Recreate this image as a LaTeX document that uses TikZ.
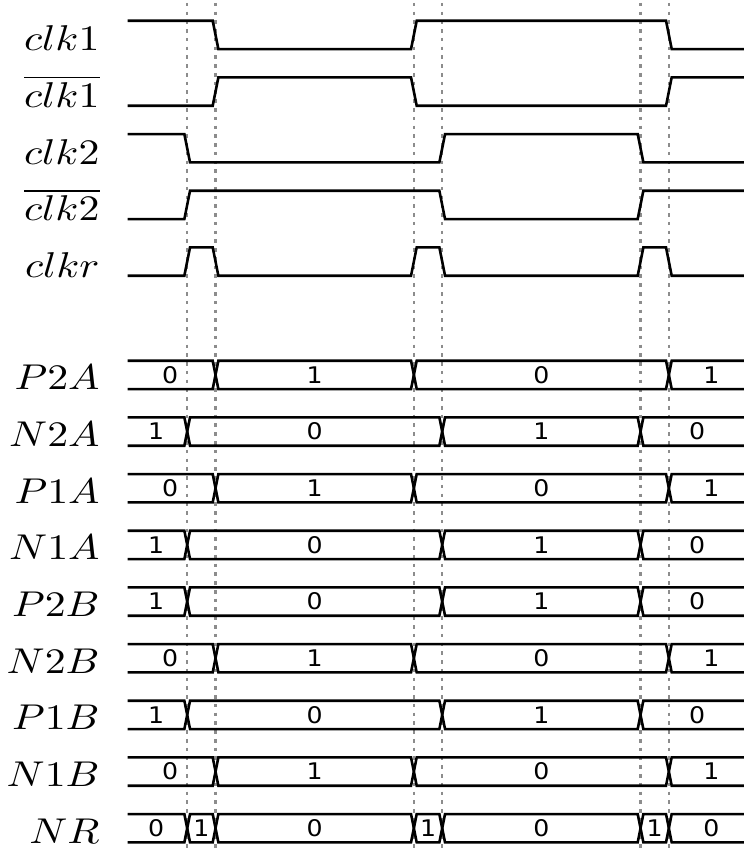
\documentclass[tikz,border=0pt]{standalone}
\usepackage{fontspec}
\usepackage{graphicx}
\newfontfamily\busfont{DejaVu Sans}
\newcommand{\signame}[1]{\scalebox{2.1}[1.8]{$#1$}}
\newcommand{\busval}[1]{\scalebox{1.1}[1]{#1}}
\begin{document}
\begin{tikzpicture}[x=0.5cm,y=-0.5cm,
  sig/.style={line width=1.3pt, line join=miter, line cap=butt},
  vline/.style={line width=1.3pt, draw=black!45, dash pattern=on 1.8pt off 2.6pt},
  lbl/.style={anchor=base east, inner sep=0pt},
  val/.style={inner sep=0pt, font=\busfont\fontsize{11.5}{13}\selectfont},
  busA/.pic={
    \draw[sig] (0,0)--(3,0)--(3.2,1)--(10,1)--(10.2,0)--(19,0)--(19.2,1)--(22,1);
    \draw[sig] (0,1)--(3,1)--(3.2,0)--(10,0)--(10.2,1)--(19,1)--(19.2,0)--(22,0);
  },
  busB/.pic={
    \draw[sig] (0,0)--(2,0)--(2.2,1)--(11,1)--(11.2,0)--(18,0)--(18.2,1)--(22,1);
    \draw[sig] (0,1)--(2,1)--(2.2,0)--(11,0)--(11.2,1)--(18,1)--(18.2,0)--(22,0);
  }]
\path[use as bounding box] (-4.507,0) rectangle (21.752,29.965);
\clip (-4.507,0) rectangle (21.752,29.965);

% vertical dotted guide lines
\foreach \t in {2.1,3.1,10.1,11.1,18.1,19.1}
  \draw[vline] (\t,0.1) -- (\t,30);

% clock signals
\begin{scope}[shift={(0,0.731)}]
  \node[lbl] (Lclk1) at (-0.98,1.06) {\signame{clk1}};
  \draw[sig] (0,0)--(3,0)--(3.2,1)--(10,1)--(10.2,0)--(19,0)--(19.2,1)--(22,1);
\end{scope}
\begin{scope}[shift={(0,2.731)}]
  \node[lbl] (Lclk1b) at (-0.98,1.06) {\signame{\overline{clk1}}};
  \draw[sig] (0,1)--(3,1)--(3.2,0)--(10,0)--(10.2,1)--(19,1)--(19.2,0)--(22,0);
\end{scope}
\begin{scope}[shift={(0,4.731)}]
  \node[lbl] (Lclk2) at (-0.98,1.06) {\signame{clk2}};
  \draw[sig] (0,0)--(2,0)--(2.2,1)--(11,1)--(11.2,0)--(18,0)--(18.2,1)--(22,1);
\end{scope}
\begin{scope}[shift={(0,6.731)}]
  \node[lbl] (Lclk2b) at (-0.98,1.06) {\signame{\overline{clk2}}};
  \draw[sig] (0,1)--(2,1)--(2.2,0)--(11,0)--(11.2,1)--(18,1)--(18.2,0)--(22,0);
\end{scope}
\begin{scope}[shift={(0,8.731)}]
  \node[lbl] (Lclkr) at (-0.98,1.06) {\signame{clkr}};
  \draw[sig] (0,1)--(2,1)--(2.2,0)--(3,0)--(3.2,1)--(10,1)--(10.2,0)--(11,0)--(11.2,1)--(18,1)--(18.2,0)--(19,0)--(19.2,1)--(22,1);
\end{scope}

% bus signals, type A (changes at 3,10,19)
\foreach \r/\name/\a/\b in {12.731/P2A/0/1, 16.731/P1A/0/1, 22.731/N2B/0/1, 26.731/N1B/0/1}{
  \begin{scope}[shift={(0,\r)}]
    \node[lbl] (L\name) at (-0.98,1.03) {\signame{\name}};
    \pic {busA};
    \node[val] (V\name a) at (1.5,0.5) {\busval{\a}};
    \node[val] (V\name b) at (6.6,0.5) {\busval{\b}};
    \node[val] (V\name c) at (14.6,0.5) {\busval{\a}};
    \node[val] (V\name d) at (20.6,0.5) {\busval{\b}};
  \end{scope}
}
% bus signals, type B (changes at 2,11,18)
\foreach \r/\name/\a/\b in {14.731/N2A/1/0, 18.731/N1A/1/0, 20.731/P2B/1/0, 24.731/P1B/1/0}{
  \begin{scope}[shift={(0,\r)}]
    \node[lbl] (L\name) at (-0.98,1.03) {\signame{\name}};
    \pic {busB};
    \node[val] (V\name a) at (1,0.5) {\busval{\a}};
    \node[val] (V\name b) at (6.6,0.5) {\busval{\b}};
    \node[val] (V\name c) at (14.6,0.5) {\busval{\a}};
    \node[val] (V\name d) at (20.1,0.5) {\busval{\b}};
  \end{scope}
}
% NR
\begin{scope}[shift={(0,28.731)}]
  \node[lbl] (LNR) at (-0.98,1.03) {\signame{NR}};
  \draw[sig] (0,0)--(2,0)--(2.2,1)--(3,1)--(3.2,0)--(10,0)--(10.2,1)--(11,1)--(11.2,0)--(18,0)--(18.2,1)--(19,1)--(19.2,0)--(22,0);
  \draw[sig] (0,1)--(2,1)--(2.2,0)--(3,0)--(3.2,1)--(10,1)--(10.2,0)--(11,0)--(11.2,1)--(18,1)--(18.2,0)--(19,0)--(19.2,1)--(22,1);
  \node[val] (VNRa) at (1,0.5) {\busval{0}};
  \node[val] (VNRb) at (2.6,0.5) {\busval{1}};
  \node[val] (VNRc) at (6.6,0.5) {\busval{0}};
  \node[val] (VNRd) at (10.6,0.5) {\busval{1}};
  \node[val] (VNRe) at (14.6,0.5) {\busval{0}};
  \node[val] (VNRf) at (18.6,0.5) {\busval{1}};
  \node[val] (VNRg) at (20.6,0.5) {\busval{0}};
\end{scope}
\end{tikzpicture}
\end{document}
